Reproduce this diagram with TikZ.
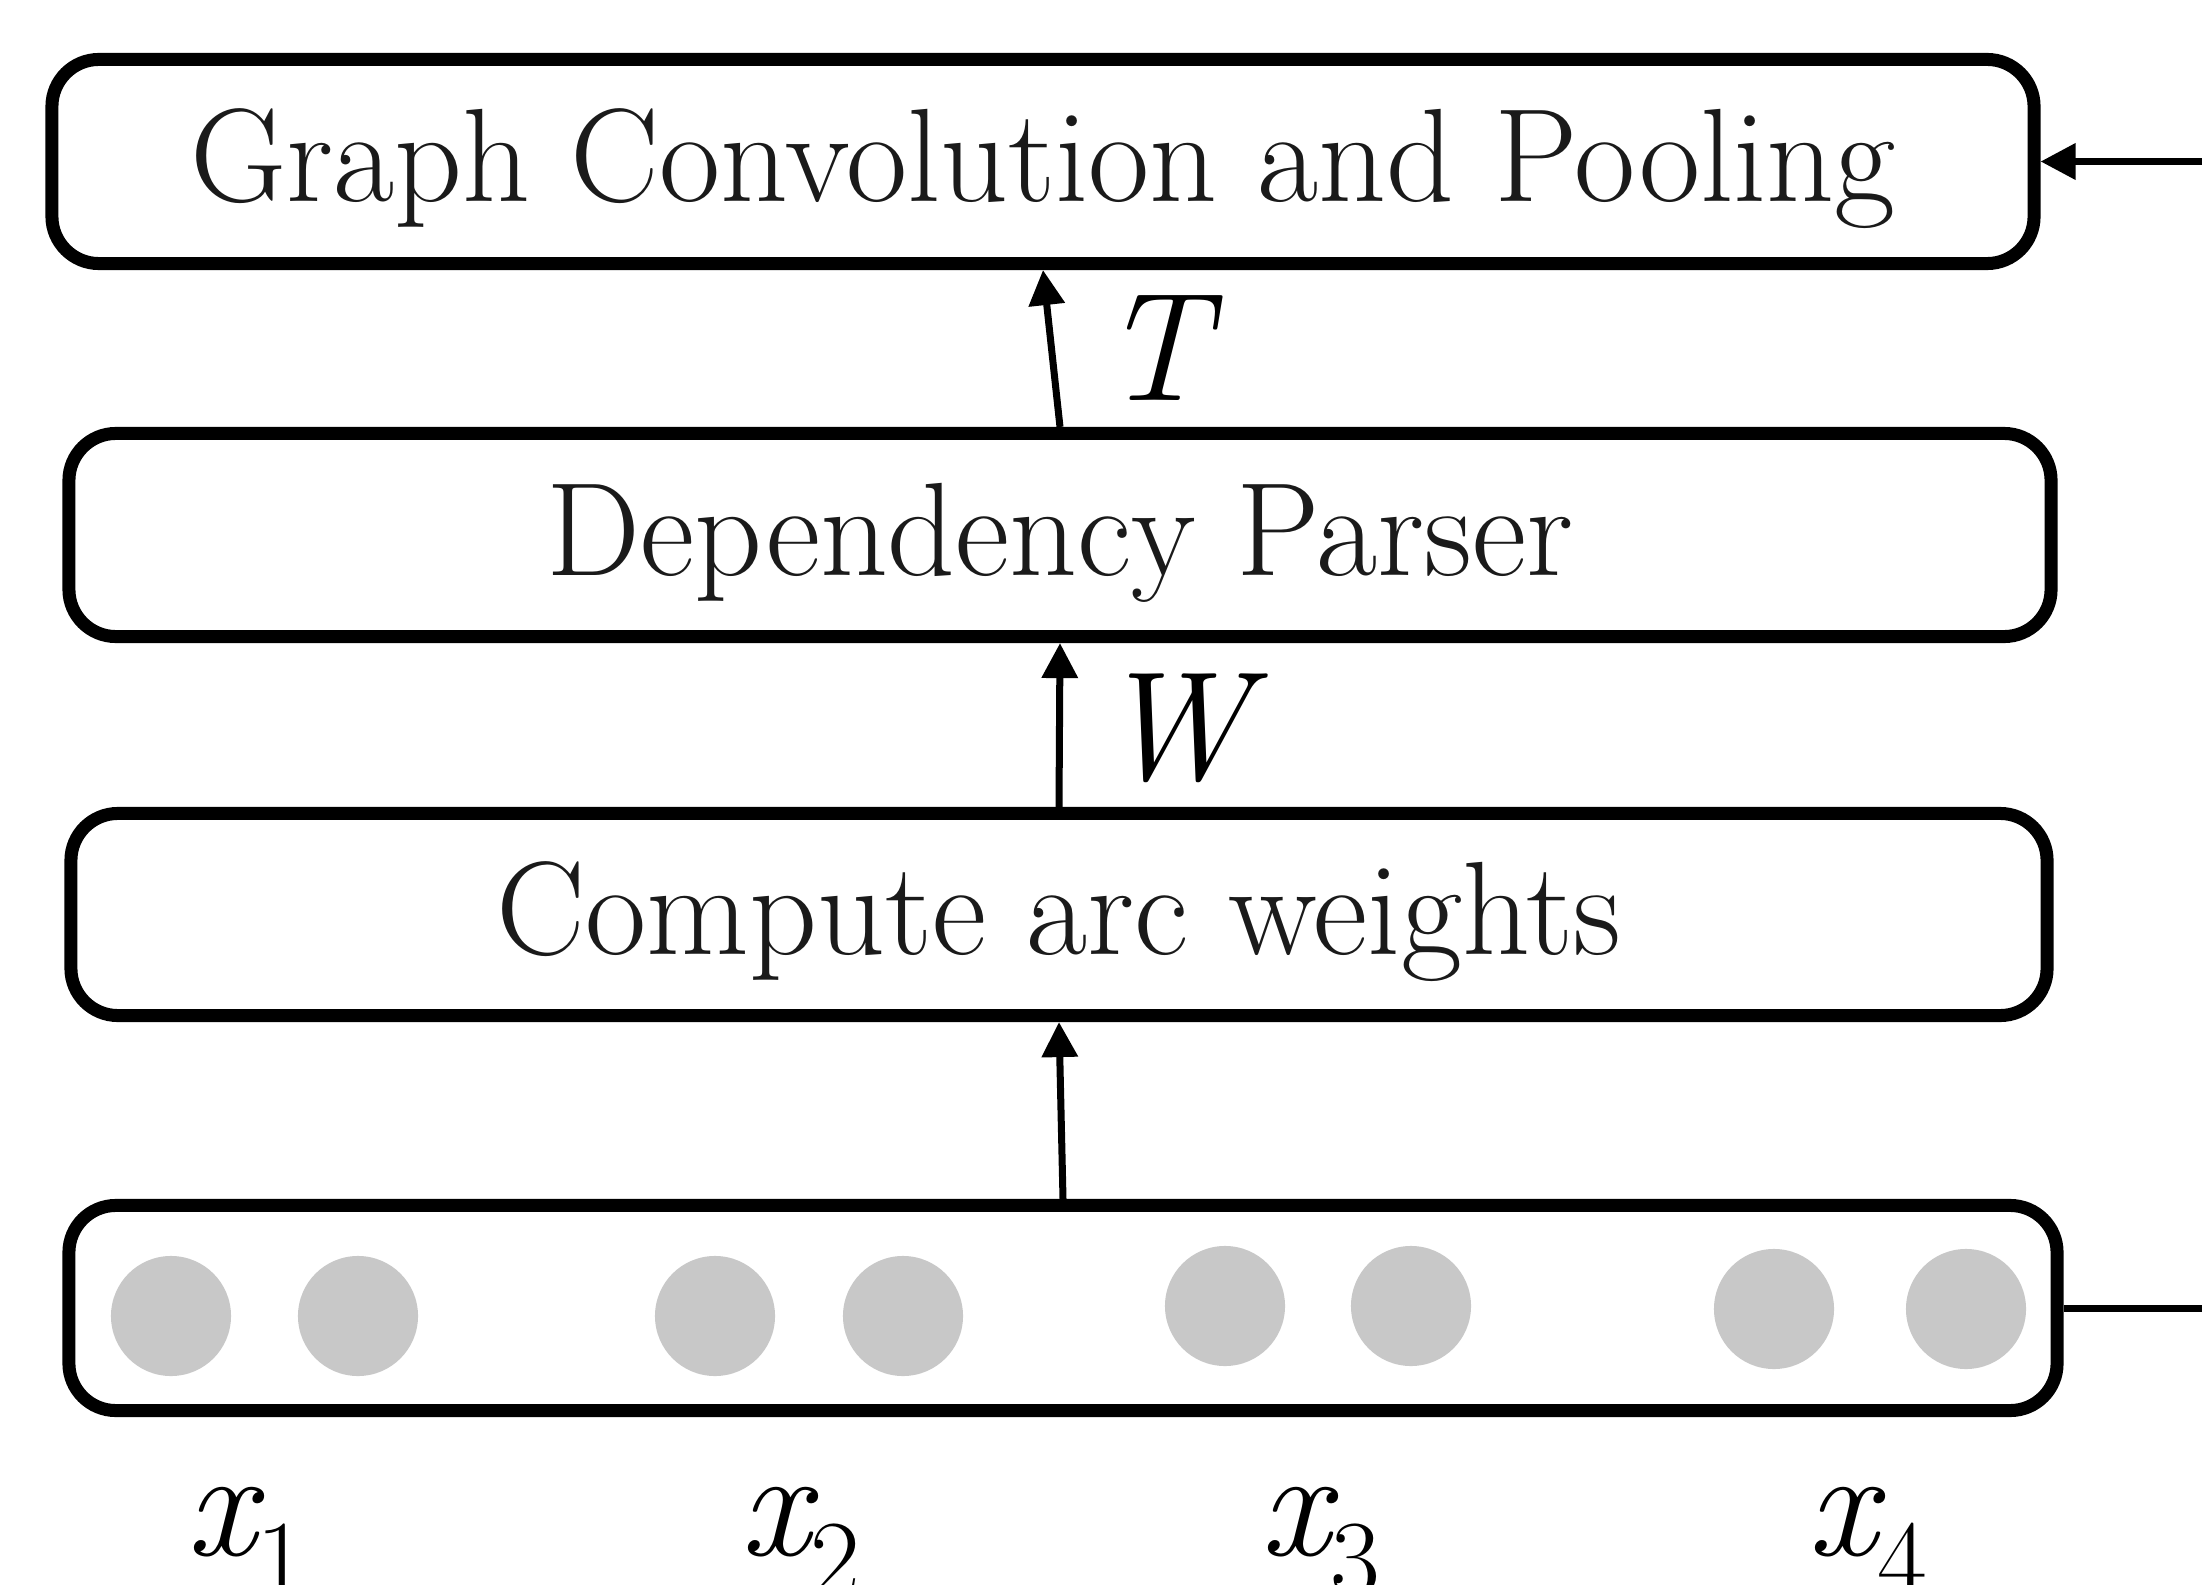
\documentclass[tikz,border=0pt]{standalone}
\usetikzlibrary{arrows.meta}
\definecolor{dotgray}{RGB}{200,200,200}
\definecolor{txt}{RGB}{26,26,26}
\newcommand{\varsub}[2]{{\itshape #1}\raisebox{-0.26em}{\upshape\fontsize{30.8}{32}\selectfont #2}}
\tikzset{
  box/.style={draw, line width=0.13cm, rounded corners=0.47cm, inner sep=0pt,
    text height=0.82cm, text depth=0.02cm, font=\fontsize{37.8}{42}\selectfont, text=txt},
  conn/.style={line width=0.07cm, -{Triangle[length=0.35cm,width=0.35cm]}},
  plainconn/.style={line width=0.07cm},
  dot/.style={circle, fill=dotgray, minimum size=1.2cm, inner sep=0pt},
  mathlbl/.style={inner sep=0pt, font=\fontsize{44}{50}\selectfont\itshape},
}
\begin{document}
\begin{tikzpicture}[x=0.01cm, y=-0.01cm]
\useasboundingbox (0,0) rectangle (2202,1585);
\clip (0,0) rectangle (2202,1585);
% boxes
\node[box, minimum width=19.81cm, minimum height=2.04cm] (b1) at (1043,161.5) {Graph Convolution and Pooling};
\node[box, minimum width=19.81cm, minimum height=2.03cm] (b2) at (1060,535) {Dependency Parser};
\node[box, minimum width=19.75cm, minimum height=2.02cm] (b3) at (1059,914.5) {Compute arc weights};
\node[box, minimum width=19.87cm, minimum height=2.05cm] (b4) at (1063,1308) {};
% dots
\node[dot] (c1) at (171,1316) {};
\node[dot] (c2) at (358,1316) {};
\node[dot] (c3) at (715,1316) {};
\node[dot] (c4) at (903,1316) {};
\node[dot] (c5) at (1225,1306) {};
\node[dot] (c6) at (1411,1306) {};
\node[dot] (c7) at (1774,1309) {};
\node[dot] (c8) at (1966,1309) {};
% arrows
\draw[conn] (b2.north) -- (b1.south);
\draw[conn] (b3.north) -- (b2.south);
\draw[conn] (b4.north) -- (b3.south);
\coordinate (fbin) at (2202,161.5);
\coordinate (fbout) at (2202,1308);
\draw[conn] (fbin) -- (b1.east);
\draw[plainconn] (b4.east) -- (fbout);
% labels
\node[mathlbl, anchor=base] (lT) at (1155,400) {T};
\node[mathlbl, anchor=base] (lW) at (1173,779) {W};
\node[mathlbl, anchor=base west] (x1) at (186,1555) {\varsub{x}{1}};
\node[mathlbl, anchor=base west] (x2) at (740,1555) {\varsub{x}{2}};
\node[mathlbl, anchor=base west] (x3) at (1260,1555) {\varsub{x}{3}};
\node[mathlbl, anchor=base west] (x4) at (1807,1555) {\varsub{x}{4}};
\end{tikzpicture}
\end{document}
